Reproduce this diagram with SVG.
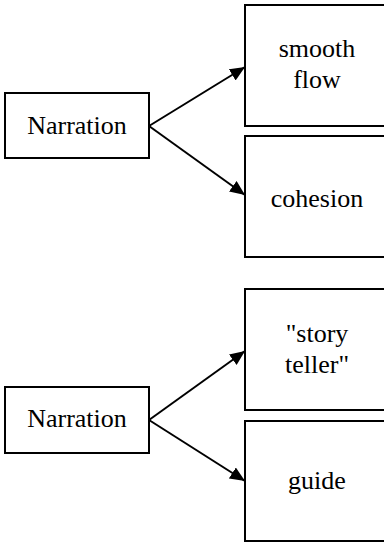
<svg xmlns="http://www.w3.org/2000/svg" width="384" height="543" viewBox="0 0 384 543">
  <defs>
    <style>
      .box { fill: #ffffff; stroke: #000000; stroke-width: 2; }
      text { font-family: 'Liberation Serif', 'Times New Roman', Times, serif; font-size: 26px; fill: #000000; text-anchor: middle; }
      .edge { fill: none; stroke: #000000; stroke-width: 2; }
    </style>
    <marker id="arrow" markerUnits="userSpaceOnUse" markerWidth="16" markerHeight="14" refX="15" refY="6.5" orient="auto">
      <path d="M0,0 L15,6.5 L0,13 Z" fill="#000000"/>
    </marker>
  </defs>
  <rect width="384" height="543" fill="#ffffff"/>

  <!-- upper cluster -->
  <g id="narration-1">
    <rect class="box" x="5" y="93" width="144" height="65"/>
    <text x="77" y="134" style="font-family:'Liberation Serif', serif">Narration</text>
  </g>
  <g id="smooth-flow">
    <rect class="box" x="245" y="5" width="150" height="121"/>
    <text x="317" y="57" style="font-family:'Liberation Serif', serif">smooth</text>
    <text x="317" y="88" style="font-family:'Liberation Serif', serif">flow</text>
  </g>
  <g id="cohesion">
    <rect class="box" x="245" y="136" width="150" height="121"/>
    <text x="317" y="207" style="font-family:'Liberation Serif', serif">cohesion</text>
  </g>

  <!-- lower cluster -->
  <g id="narration-2">
    <rect class="box" x="5" y="387" width="144" height="66"/>
    <text x="77" y="427" style="font-family:'Liberation Serif', serif">Narration</text>
  </g>
  <g id="story-teller">
    <rect class="box" x="245" y="289" width="150" height="121"/>
    <text x="317" y="342" style="font-family:'Liberation Serif', serif">"story</text>
    <text x="317" y="373" style="font-family:'Liberation Serif', serif">teller"</text>
  </g>
  <g id="guide">
    <rect class="box" x="245" y="421" width="150" height="120"/>
    <text x="317" y="489" style="font-family:'Liberation Serif', serif">guide</text>
  </g>

  <g id="connectors">
    <line class="edge" x1="149" y1="126" x2="245" y2="67" marker-end="url(#arrow)"/>
    <line class="edge" x1="149" y1="126" x2="245" y2="195" marker-end="url(#arrow)"/>
    <line class="edge" x1="149" y1="420" x2="245" y2="351" marker-end="url(#arrow)"/>
    <line class="edge" x1="149" y1="420" x2="245" y2="481" marker-end="url(#arrow)"/>
  </g>
</svg>
